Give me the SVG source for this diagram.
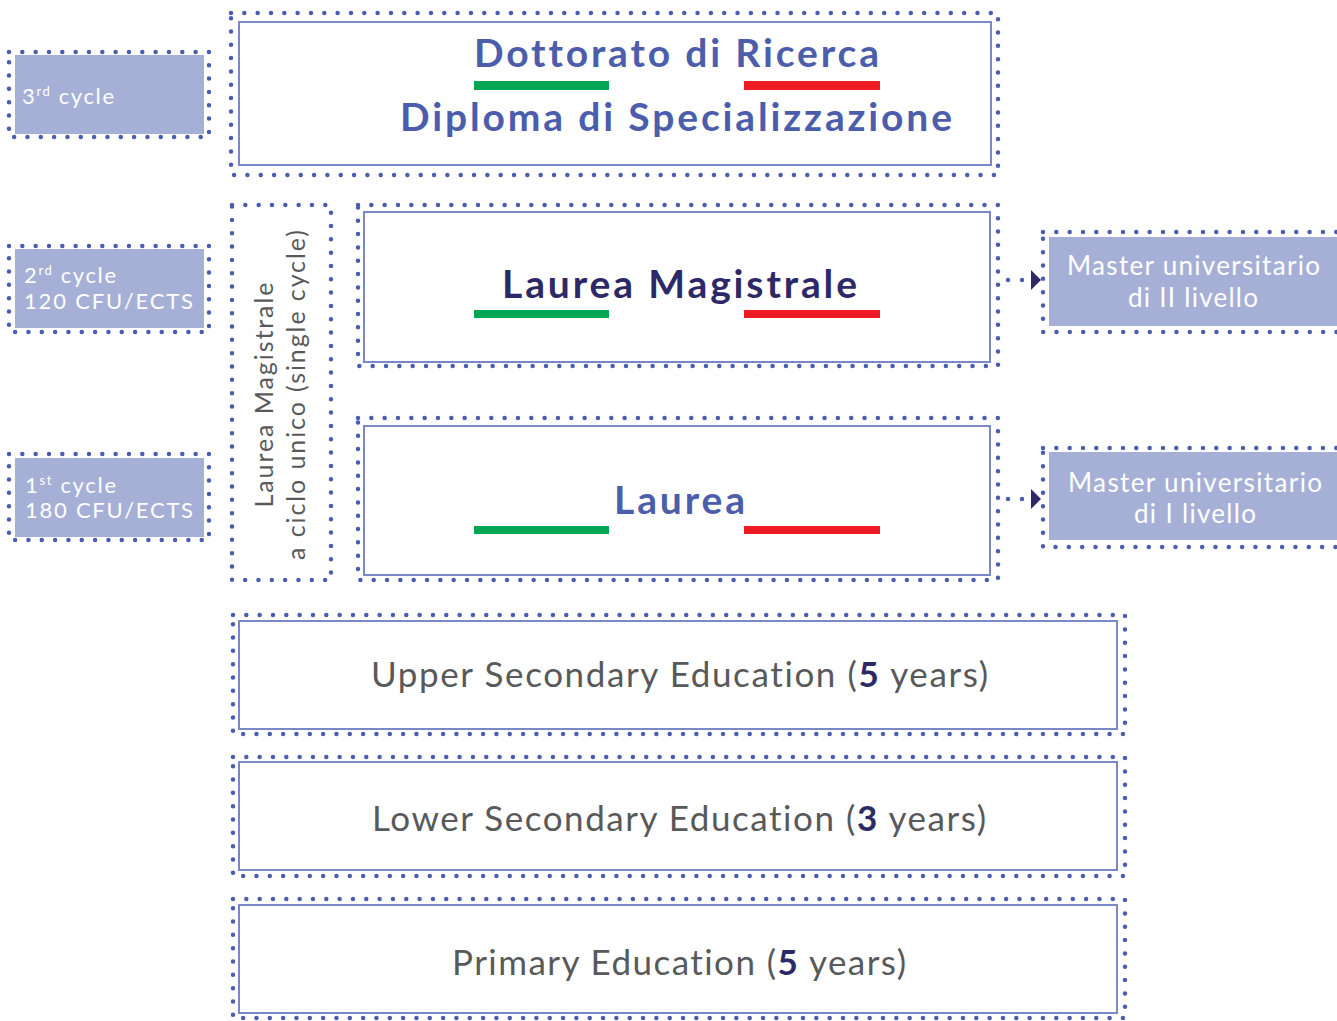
<svg xmlns="http://www.w3.org/2000/svg" width="1337" height="1021" viewBox="0 0 1337 1021">
<defs>
<style>
text{font-variant-ligatures:none}
.dots{fill:none;stroke:#4a5db0;stroke-width:4.5;stroke-dasharray:0 13.33;stroke-linecap:round}
.frame{fill:#fff;stroke:#7b88c8;stroke-width:2}
.fill{fill:#a6b0d6}
.cyc{font-family:Lato,"Noto Sans",sans-serif;font-size:22px;fill:#fff}
.sup{font-size:13px}
.title{font-family:Lato,"Noto Sans",sans-serif;font-weight:bold;font-size:39px;fill:#4b5dab;text-anchor:middle}
.navy{fill:#2c2966}
.edu{font-family:Lato,"Noto Sans",sans-serif;font-size:35px;fill:#58595b;text-anchor:middle}
.b{font-weight:bold;fill:#2c2966}
.vert{font-family:Lato,"Noto Sans",sans-serif;font-size:25px;fill:#58595b;text-anchor:middle}
.mast{font-family:Lato,"Noto Sans",sans-serif;font-size:26px;fill:#fff;text-anchor:middle}
.green{fill:#00a651}
.red{fill:#ed1c24}
.conn{stroke:#4a5db0;stroke-width:4.5;stroke-dasharray:0 14;stroke-linecap:round;fill:none}
</style>
<marker id="arr" markerUnits="userSpaceOnUse" viewBox="0 0 10 20" refX="0" refY="10" markerWidth="10" markerHeight="20" orient="auto">
<path d="M0,0 L10,10 L0,20 Z" fill="#2c2966"/>
</marker>
</defs>
<rect width="1337" height="1021" fill="#fff"/>

<g id="cycle3">
<rect class="fill" x="15" y="55" width="189" height="79"/>
<rect class="dots" x="9" y="52" width="200" height="85"/>
<text class="cyc" x="22" y="104" textLength="92">3<tspan class="sup" baseline-shift="8">rd</tspan> cycle</text>
</g>
<g id="cycle2">
<rect class="fill" x="15" y="249" width="189" height="79"/>
<rect class="dots" x="9" y="246" width="200" height="86"/>
<text class="cyc" x="24" y="283" textLength="92">2<tspan class="sup" baseline-shift="8">rd</tspan> cycle</text>
<text class="cyc" x="24" y="309" textLength="169">120 CFU/ECTS</text>
</g>
<g id="cycle1">
<rect class="fill" x="15" y="458" width="189" height="79"/>
<rect class="dots" x="9" y="454" width="200" height="86"/>
<text class="cyc" x="25" y="493" textLength="91">1<tspan class="sup" baseline-shift="8">st</tspan> cycle</text>
<text class="cyc" x="25" y="518" textLength="168">180 CFU/ECTS</text>
</g>

<g id="dottorato">
<rect class="frame" x="239" y="22" width="752" height="143"/>
<rect class="dots" x="231" y="13" width="767" height="162"/>
<text class="title" x="676.5" y="67" textLength="405">Dottorato di Ricerca</text>
<rect class="green" x="474" y="81" width="135" height="9"/>
<rect class="red" x="744" y="81" width="136" height="9"/>
<text class="title" x="676" y="131" textLength="552">Diploma di Specializzazione</text>
</g>

<g id="ciclounico">
<rect class="dots" x="232" y="205" width="99" height="375"/>
<text class="vert" transform="translate(273,395) rotate(-90)" textLength="225">Laurea Magistrale</text>
<text class="vert" transform="translate(305,395) rotate(-90)" textLength="330">a ciclo unico (single cycle)</text>
</g>

<g id="magistrale">
<rect class="frame" x="364" y="212" width="626" height="150"/>
<rect class="dots" x="358" y="205" width="640" height="161"/>
<text class="title navy" x="679.5" y="298" textLength="355">Laurea Magistrale</text>
<rect class="green" x="474" y="310" width="135" height="8"/>
<rect class="red" x="744" y="310" width="136" height="8"/>
</g>

<g id="laurea">
<rect class="frame" x="364" y="426" width="626" height="149"/>
<rect class="dots" x="358" y="418" width="640" height="162"/>
<text class="title" x="679.5" y="514" textLength="131">Laurea</text>
<rect class="green" x="474" y="526" width="135" height="8"/>
<rect class="red" x="744" y="526" width="136" height="8"/>
</g>

<g id="master2">
<rect class="fill" x="1049" y="237" width="290" height="89"/>
<rect class="dots" x="1043" y="232" width="310" height="100"/>
<text class="mast" x="1193.5" y="275" textLength="253">Master universitario</text>
<text class="mast" x="1193" y="307" textLength="130">di II livello</text>
</g>

<g id="master1">
<rect class="fill" x="1049" y="452" width="290" height="88"/>
<rect class="dots" x="1043" y="448" width="310" height="99"/>
<text class="mast" x="1195" y="492" textLength="254">Master universitario</text>
<text class="mast" x="1195" y="523" textLength="122">di I livello</text>
</g>

<g id="upper">
<rect class="frame" x="239" y="621" width="878" height="108"/>
<rect class="dots" x="233" y="615" width="892" height="119"/>
<text class="edu" x="679.5" y="687" textLength="617">Upper Secondary Education (<tspan class="b">5</tspan> years)</text>
</g>
<g id="lower">
<rect class="frame" x="239" y="762" width="878" height="108"/>
<rect class="dots" x="233" y="757" width="892" height="119"/>
<text class="edu" x="679" y="831" textLength="614">Lower Secondary Education (<tspan class="b">3</tspan> years)</text>
</g>
<g id="primary">
<rect class="frame" x="239" y="905" width="878" height="108"/>
<rect class="dots" x="233" y="899" width="892" height="119"/>
<text class="edu" x="679" y="975" textLength="454">Primary Education (<tspan class="b">5</tspan> years)</text>
</g>

<g id="connectors">
<line class="conn" x1="1008" y1="280" x2="1031" y2="280" marker-end="url(#arr)"/>
<line class="conn" x1="1008" y1="499" x2="1031" y2="499" marker-end="url(#arr)"/>
</g>
</svg>
